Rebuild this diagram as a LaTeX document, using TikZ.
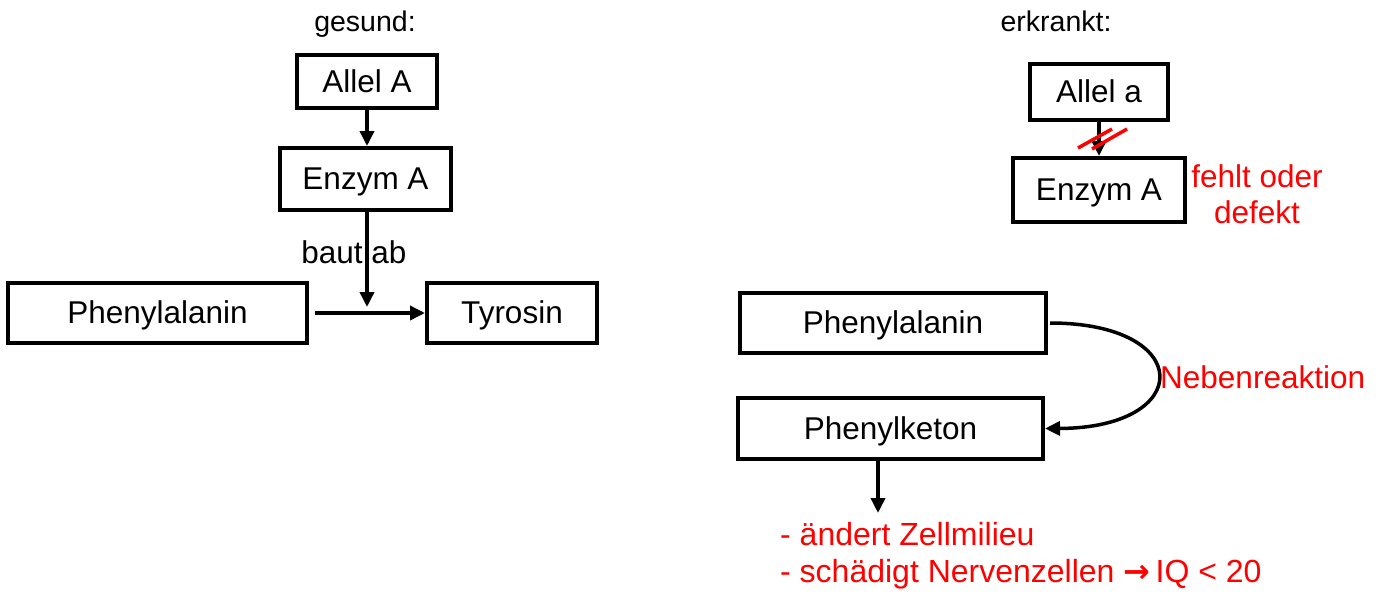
\documentclass[tikz,border=0pt]{standalone}
\usepackage{fontspec}
\setmainfont{Liberation Sans}
\newfontfamily\arrowfont{DejaVu Sans}
\usetikzlibrary{arrows.meta,calc}
\definecolor{pkured}{RGB}{255,0,0}
\tikzset{
  box/.style={draw=black, line width=4pt, inner sep=0pt, text depth=1pt, font=\fontsize{31.5}{36}\selectfont},
  conn/.style={line width=3.5pt, -{Triangle[length=15pt,width=14pt]}},
  lbl/.style={inner sep=0pt, font=\fontsize{31.5}{36}\selectfont},
  hdr/.style={inner sep=0pt, font=\fontsize{28.5}{34}\selectfont},
  redlbl/.style={lbl, text=pkured},
}
\begin{document}
\begin{tikzpicture}[x=1pt,y=-1pt]
\useasboundingbox (0,0) rectangle (1384,592);
% left: gesund
\node[hdr, anchor=base] (h1) at (365,31) {gesund:};
\node[box, minimum width=140pt, minimum height=53pt] (AllelA) at (367,81.5) {Allel A};
\node[box, minimum width=171pt, minimum height=62pt] (EnzymA) at (365.5,179) {Enzym A};
\node[box, minimum width=299pt, minimum height=60pt] (PheL) at (157.5,313) {Phenylalanin};
\node[box, minimum width=170pt, minimum height=60pt] (Tyr) at (512,313) {Tyrosin};
\node[lbl, anchor=base] (baut) at (354,263) {baut ab};
\coordinate (junc) at (367,307);
\coordinate (hstart) at (315,313);
\draw[conn] (AllelA.south) -- (AllelA.south |- EnzymA.north);
\draw[conn] (EnzymA.south -| junc) -- (junc);
\draw[conn] (hstart) -- (Tyr.west);
% right: erkrankt
\node[hdr, anchor=base] (h2) at (1056,31) {erkrankt:};
\node[box, minimum width=138pt, minimum height=56pt] (Allela) at (1099,92) {Allel a};
\node[box, minimum width=172pt, minimum height=64pt] (EnzymB) at (1099,190) {Enzym A};
\draw[conn] (Allela.south) -- (EnzymB.north);
\draw[pkured, line width=3.5pt] (1078,148) -- (1112,129);
\draw[pkured, line width=3.5pt] (1092,149) -- (1127,129);
\node[redlbl, anchor=base] (fehlt) at (1257,187) {fehlt oder};
\node[redlbl, anchor=base] (defekt) at (1257,223) {defekt};
\node[box, minimum width=306pt, minimum height=60pt] (PheR) at (893,323) {Phenylalanin};
\node[box, minimum width=305pt, minimum height=61pt] (Keton) at (890.5,428.5) {Phenylketon};
\coordinate (cstart) at (1050,323);
\draw[conn] (cstart) .. controls (1195,323) and (1195,428) .. (Keton.east);
\node[redlbl, anchor=west] (neben) at (1160,377) {Nebenreaktion};
\coordinate (kend) at (878,513);
\draw[conn] (Keton.south -| kend) -- (kend);
\node[redlbl, anchor=base west, font=\fontsize{32}{36}\selectfont] (t1) at (780,545) {- ändert Zellmilieu};
\node[redlbl, anchor=base west, font=\fontsize{32}{36}\selectfont] (t2) at (780,582) {- schädigt Nervenzellen {\arrowfont\bfseries →}\,IQ < 20};
\end{tikzpicture}
\end{document}
